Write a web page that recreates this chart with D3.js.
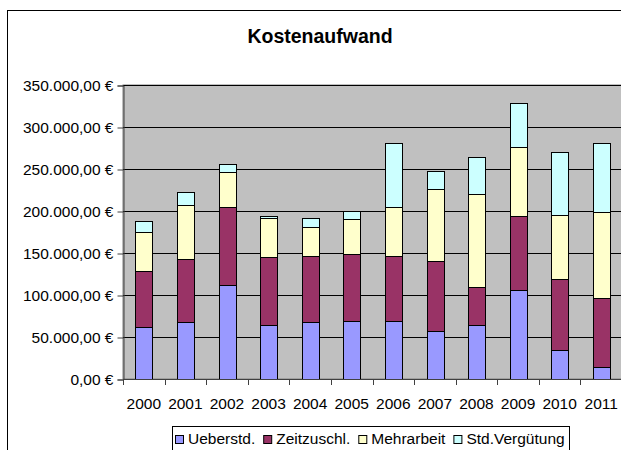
<!DOCTYPE html>
<html>
<head>
<meta charset="utf-8">
<script src="https://cdn.jsdelivr.net/npm/d3@7"></script>
<style>
  html, body { margin: 0; padding: 0; background: #fff; }
  svg { display: block; font-family: "Liberation Sans", Arial, sans-serif; }
</style>
</head>
<body>
<svg id="chart" width="621" height="450"></svg>
<script>
const years = ["2000","2001","2002","2003","2004","2005","2006","2007","2008","2009","2010","2011"];
const ueberstd      = [61500, 67900, 111900, 63900, 67500, 69000, 69000, 57500, 63900, 106000, 34100, 14700];
const zeitzuschl    = [67500, 75400, 92500, 80900, 78500, 79400, 77000, 83400, 45200, 88400, 84600, 81700];
const mehrarbeit    = [45600, 63400, 41600, 46500, 35000, 41600, 58400, 85300, 110700, 81400, 76500, 102400];
const stdVerguetung = [13900, 15900, 10300, 2700, 10700, 10400, 76600, 21000, 44500, 53200, 75400, 82200];
const seriesNames = ["Ueberstd.", "Zeitzuschl.", "Mehrarbeit", "Std.Vergütung"];
const seriesColors = ["#9999FF", "#993366", "#FFFFCC", "#CCFFFF"];
const yTicks = [0, 50000, 100000, 150000, 200000, 250000, 300000, 350000];
const title = "Kostenaufwand";

const svg = d3.select("#chart");
const plot = { left: 123, right: 622, top: 85, bottom: 379 };

// chart area border (extends beyond the visible window)
svg.append("rect").attr("x", 7.5).attr("y", 10.5).attr("width", 640).attr("height", 460)
  .attr("fill", "#fff").attr("stroke", "#000").attr("stroke-width", 1);

svg.append("text").attr("x", 320).attr("y", 43).attr("text-anchor", "middle")
  .attr("font-size", "19.5px").attr("font-weight", "bold").text(title);

const x = d3.scaleBand().domain(years).range([plot.left, plot.right]).paddingInner(0.6).paddingOuter(0.3);
const y = d3.scaleLinear().domain([0, 350000]).range([plot.bottom, plot.top]);

svg.append("rect").attr("x", plot.left).attr("y", plot.top)
  .attr("width", plot.right - plot.left).attr("height", plot.bottom - plot.top)
  .attr("fill", "#C0C0C0").attr("stroke", "#808080").attr("stroke-width", 1);

// gridlines
svg.append("g").selectAll("line").data(yTicks.filter(d => d > 0)).join("line")
  .attr("x1", plot.left).attr("x2", plot.right)
  .attr("y1", d => Math.round(y(d)) + 0.5).attr("y2", d => Math.round(y(d)) + 0.5)
  .attr("stroke", "#000").attr("stroke-width", 1);

// stacked bars
const table = years.map((yr, i) => ({ year: yr, s0: ueberstd[i], s1: zeitzuschl[i], s2: mehrarbeit[i], s3: stdVerguetung[i] }));
const stack = d3.stack().keys(["s0", "s1", "s2", "s3"])(table);
svg.append("g").selectAll("g").data(stack).join("g")
  .attr("fill", (d, i) => seriesColors[i])
  .selectAll("rect").data(d => d).join("rect")
  .attr("x", d => Math.round(x(d.data.year)) + 0.5)
  .attr("width", Math.round(x.bandwidth()))
  .attr("y", d => Math.round(y(d[1])) + 0.5)
  .attr("height", d => Math.round(y(d[0])) - Math.round(y(d[1])))
  .attr("stroke", "#000").attr("stroke-width", 1);

// locale for euro format
const de = d3.formatLocale({ decimal: ",", thousands: ".", grouping: [3], currency: ["", " €"] });
const fmt = de.format("$,.2f");

// y axis
const yAxis = d3.axisLeft(y).tickValues(yTicks).tickFormat(fmt).tickSize(6).tickPadding(4);
const gy = svg.append("g").attr("transform", `translate(${plot.left + 0.5},0.5)`).call(yAxis);
gy.select(".domain").attr("stroke", "#404040");
gy.selectAll(".tick line").attr("stroke", "#404040");
gy.selectAll("text").attr("font-size", "15.5px").attr("fill", "#000").attr("font-family", "Liberation Sans, Arial, sans-serif");

// x axis
const gx = svg.append("g");
gx.append("line").attr("x1", plot.left).attr("x2", plot.right)
  .attr("y1", plot.bottom + 0.5).attr("y2", plot.bottom + 0.5).attr("stroke", "#404040");
const step = x.step();
gx.selectAll("line.t").data(d3.range(years.length + 1)).join("line").attr("class", "t")
  .attr("x1", i => Math.round(plot.left + i * step) + 0.5).attr("x2", i => Math.round(plot.left + i * step) + 0.5)
  .attr("y1", plot.bottom).attr("y2", plot.bottom + 6).attr("stroke", "#404040");
gx.selectAll("text").data(years).join("text")
  .attr("x", d => x(d) + x.bandwidth() / 2).attr("y", 409)
  .attr("text-anchor", "middle").attr("font-size", "15.5px").text(d => d);

// legend
const lg = svg.append("g");
lg.append("rect").attr("x", 172.5).attr("y", 426.5).attr("width", 397).attr("height", 40)
  .attr("fill", "#fff").attr("stroke", "#000");
let lx = 175;
seriesNames.forEach((name, i) => {
  lg.append("rect").attr("x", lx + 0.5).attr("y", 435.5).attr("width", 8).attr("height", 8)
    .attr("fill", seriesColors[i]).attr("stroke", "#000");
  const t = lg.append("text").attr("x", lx + 13).attr("y", 444).attr("font-size", "15.5px").text(name);
  lx += 13 + t.node().getComputedTextLength() + 8;
});
</script>
</body>
</html>
